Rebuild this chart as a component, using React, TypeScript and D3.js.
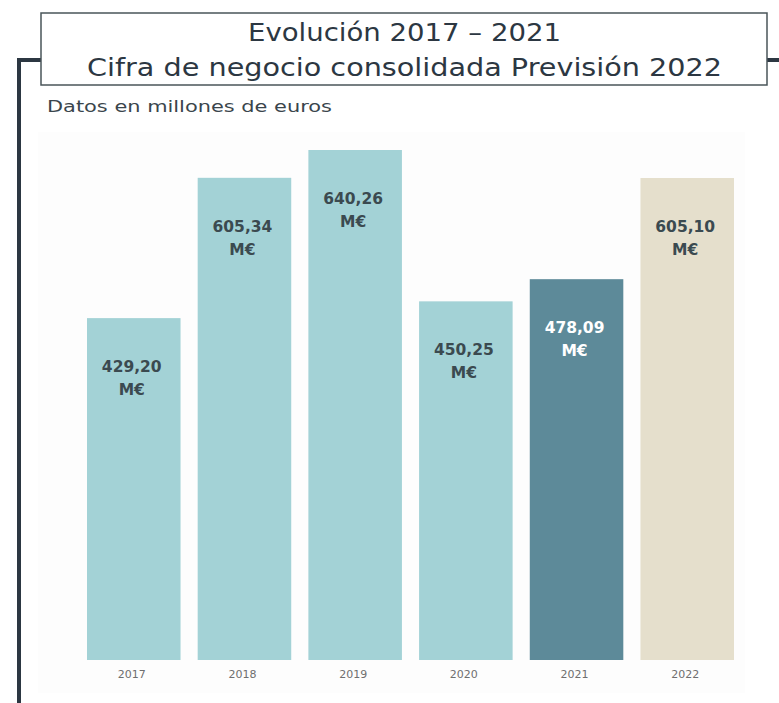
import React from 'react';
import * as d3 from 'd3';

const years = ['2017', '2018', '2019', '2020', '2021', '2022'];
const values = [429.2, 605.34, 640.26, 450.25, 478.09, 605.1];
const valueLabels = ['429,20', '605,34', '640,26', '450,25', '478,09', '605,10'];
const barColors = ['#a3d2d6', '#a3d2d6', '#a3d2d6', '#a3d2d6', '#5d8a99', '#e5dfcc'];
const labelColors = ['#3b4a50', '#3b4a50', '#3b4a50', '#3b4a50', '#ffffff', '#3b4a50'];

const W = 779;
const H = 703;
const dark = '#2c3742';
const titleFont = "'DejaVu Sans', 'Noto Sans', sans-serif";
const barFont = "'DejaVu Sans', 'Open Sans', sans-serif";

const App: React.FC = () => {
  const x = d3.scaleBand<string>().domain(years).range([87, 734]).paddingInner(0.155).paddingOuter(0);
  const y = d3.scaleLinear().domain([0, 640.26]).range([660, 150]);

  return (
    <svg width={W} height={H} style={{ position: 'absolute', left: 0, top: 0, background: '#fff' }}>
      {/* frame */}
      <path d="M19,703 V60 H41" fill="none" stroke={dark} strokeWidth={4} />
      <line x1={767} y1={60} x2={779} y2={60} stroke={dark} strokeWidth={4} />
      <rect x={41} y={13} width={726} height={72} fill="#fff" stroke="#4a5559" strokeWidth={1.5} />

      <text x={248} y={41} textLength={313} lengthAdjust="spacingAndGlyphs" fontFamily={titleFont} fontSize={24} fill={dark}>
        Evolución 2017 – 2021
      </text>
      <text x={87} y={76} textLength={635} lengthAdjust="spacingAndGlyphs" fontFamily={titleFont} fontSize={24} fill={dark}>
        Cifra de negocio consolidada Previsión 2022
      </text>
      <text x={47} y={112} textLength={285} lengthAdjust="spacingAndGlyphs" fontFamily={titleFont} fontSize={16} fill="#3a454c">
        Datos en millones de euros
      </text>

      {/* faint panel */}
      <rect x={38} y={132} width={707} height={561} fill="#fdfdfd" />

      {years.map((yr, i) => {
        const bx = x(yr) as number;
        const bw = x.bandwidth();
        const top = y(values[i]);
        const cx = bx + bw / 2 - 2;
        return (
          <g key={yr}>
            <rect x={bx} y={top} width={bw} height={y(0) - top} fill={barColors[i]} />
            <text x={cx} y={top + 54} textAnchor="middle" fontFamily={barFont} fontWeight="bold"
              fontSize={15.5} fill={labelColors[i]}>{valueLabels[i]}</text>
            <text x={cx} y={top + 77} textAnchor="middle" fontFamily={barFont} fontWeight="bold"
              fontSize={15.5} fill={labelColors[i]}>M€</text>
            <text x={cx} y={678} textAnchor="middle" fontFamily={barFont} fontSize={11} fill="#6f6f6f">
              {yr}
            </text>
          </g>
        );
      })}
    </svg>
  );
};

export default App;
